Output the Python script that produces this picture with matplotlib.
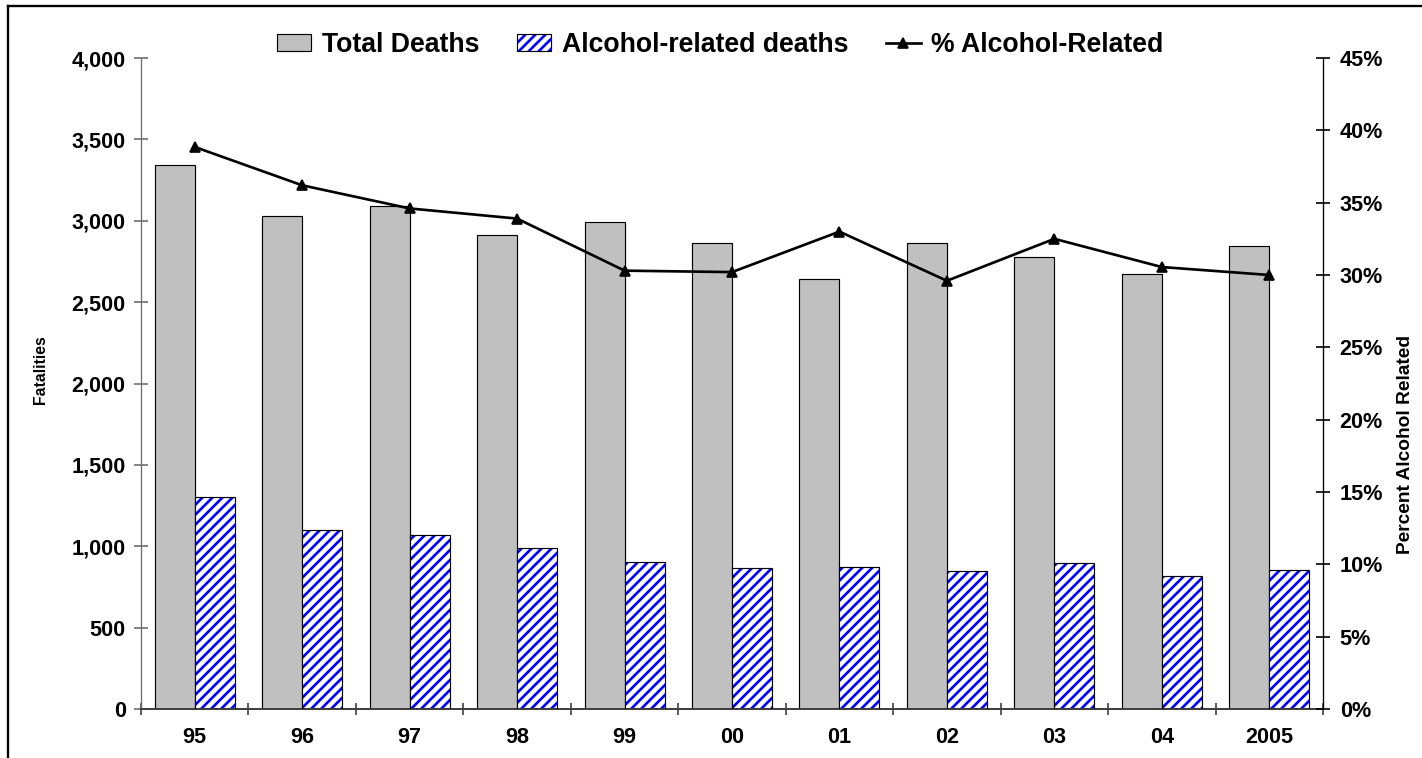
import numpy as np
import matplotlib
matplotlib.use("Agg")
import matplotlib.pyplot as plt
from matplotlib.patches import Patch
from matplotlib.lines import Line2D
from matplotlib.legend_handler import HandlerTuple
from matplotlib.ticker import FuncFormatter

# data
years   = ["95", "96", "97", "98", "99", "00", "01", "02", "03", "04", "2005"]
total   = [3340, 3030, 3090, 2910, 2990, 2865, 2645, 2865, 2780, 2670, 2845]
alcohol = [1300, 1100, 1070, 990, 905, 865, 875, 850, 900, 820, 855]
pct     = [38.85, 36.2, 34.6, 33.9, 30.3, 30.2, 33.0, 29.6, 32.5, 30.55, 30.0]

plt.rcParams['font.family'] = ['Liberation Sans', 'DejaVu Sans']
plt.rcParams['font.weight'] = 'bold'
plt.rcParams['hatch.linewidth'] = 1.6

DPI = 120
fig = plt.figure(figsize=(1422/DPI, 758/DPI), dpi=DPI)
ax = fig.add_axes([141/1422, 1-709/758, (1323-141)/1422, (709-58)/758])

x = np.arange(len(years))
w = 0.372

ax.bar(x - w/2, total, w, color='#C0C0C0', edgecolor='black', linewidth=0.7, zorder=2)
ax.bar(x + w/2, alcohol, w, color='white', edgecolor='blue', hatch='////', linewidth=0, zorder=2)
ax.bar(x + w/2, alcohol, w, fill=False, edgecolor='black', linewidth=0.7, zorder=3)

ax.set_xlim(-0.5, len(years) - 0.5)
ax.set_ylim(0, 4000)
ax.set_yticks(np.arange(0, 4001, 500))
ax.yaxis.set_major_formatter(FuncFormatter(lambda v, p: f"{int(v):,}"))
ax.set_xticks(x)
ax.set_xticklabels(years)
ax.set_xticks(np.arange(-0.5, len(years), 1), minor=True)

for s in ['top', 'right']:
    ax.spines[s].set_visible(False)
ax.spines['left'].set_color('#707070')
ax.spines['bottom'].set_color('#404040')
ax.spines['bottom'].set_linewidth(1.2)

ax.tick_params(axis='y', direction='inout', length=8.4, width=1, color='#707070',
               labelsize=13, pad=5)
ax.tick_params(axis='x', which='major', length=0, labelsize=13, pad=11)
ax.tick_params(axis='x', which='minor', direction='inout', length=7.5, width=1, color='#404040')

ax2 = ax.twinx()
ax2.plot(x, pct, color='black', lw=1.6, marker='^', markersize=6.5, zorder=5)
ax2.set_ylim(0, 45)
ax2.set_yticks(np.arange(0, 46, 5))
ax2.yaxis.set_major_formatter(FuncFormatter(lambda v, p: f"{int(v)}%"))
for s in ['top', 'left', 'bottom']:
    ax2.spines[s].set_visible(False)
ax2.spines['right'].set_color('black')
ax2.tick_params(axis='y', direction='inout', length=8, width=1, color='black',
                labelsize=13, pad=6)

fig.text(40/1422, 1-370/758, "Fatalities", rotation=90, ha='center', va='center',
         fontsize=9.5, fontweight='bold')
fig.text(1406/1422, 1-445/758, "Percent Alcohol Related", rotation=90, ha='center',
         va='center', fontsize=11.5, fontweight='bold')

# legend
h_total = Patch(facecolor='#C0C0C0', edgecolor='black', linewidth=0.7)
h_alc = (Patch(facecolor='white', edgecolor='blue', hatch='////', linewidth=0),
         Patch(fill=False, edgecolor='black', linewidth=0.7))
h_pct = Line2D([], [], color='black', lw=1.6, marker='^', markersize=6)
fig.legend([h_total, h_alc, h_pct],
           ["Total Deaths", "Alcohol-related deaths", "% Alcohol-Related"],
           handler_map={tuple: HandlerTuple(ndivide=1)},
           loc='center', bbox_to_anchor=(720/1422, 1-45/758), ncol=3, frameon=False,
           prop={'size': 16, 'weight': 'bold'}, handlelength=1.3, handleheight=0.6,
           handletextpad=0.4, columnspacing=1.4)

# outer chart frame (left and top edges visible)
fig.add_artist(Line2D([8/1422, 8/1422], [0, 1-6/758], color='black', lw=1.4,
                      transform=fig.transFigure))
fig.add_artist(Line2D([8/1422, 1], [1-6/758, 1-6/758], color='black', lw=1.4,
                      transform=fig.transFigure))

fig.savefig("out.png", dpi=DPI)
